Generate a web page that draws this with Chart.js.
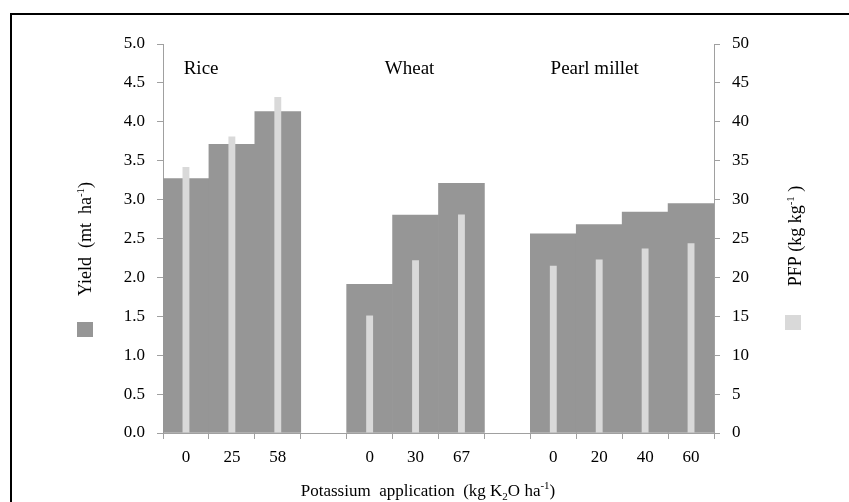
<!DOCTYPE html>
<html>
<head>
<meta charset="utf-8">
<script src="https://cdn.jsdelivr.net/npm/chart.js@4.4.1/dist/chart.umd.min.js"></script>
<style>
  html, body { margin: 0; padding: 0; background: #fff; }
  #wrap { width: 849px; height: 502px; }
</style>
</head>
<body>
<div id="wrap"><canvas id="yieldChart" width="849" height="502"></canvas></div>
<script>
// K rates per crop, blank slots separate the crops
const rates = ['0', '25', '58', '', '0', '30', '67', '', '0', '20', '40', '60'];
const crops = ['Rice', 'Wheat', 'Pearl millet'];
// grain yield, mt/ha
const yieldVals = [3.27, 3.71, 4.13, null, 1.91, 2.80, 3.21, null, 2.56, 2.68, 2.84, 2.95];
// partial factor productivity, kg/kg
const pfpVals = [34.2, 38.1, 43.2, null, 15.1, 22.2, 28.1, null, 21.5, 22.3, 23.7, 24.4];

const FONT = '"Liberation Serif", "Times New Roman", serif';
const DARK = '#969696';
const LIGHT = '#d9d9d9';
const AXIS = '#a0a0a0';

// draws text with super/subscript pieces, centred on (x, y)
function drawRich(ctx, parts, x, y, size, vertical) {
  const small = Math.round(size * 0.62);
  let total = 0;
  parts.forEach(p => {
    ctx.font = (p[1] ? small : size) + 'px ' + FONT;
    total += ctx.measureText(p[0]).width;
  });
  ctx.save();
  ctx.translate(x, y);
  if (vertical) ctx.rotate(-Math.PI / 2);
  ctx.fillStyle = '#000';
  ctx.textBaseline = 'alphabetic';
  ctx.textAlign = 'left';
  let cx = -total / 2;
  parts.forEach(p => {
    ctx.font = (p[1] ? small : size) + 'px ' + FONT;
    const dy = p[1] === 1 ? -size * 0.4 : (p[1] === -1 ? size * 0.22 : 0);
    ctx.fillText(p[0], cx, dy);
    cx += ctx.measureText(p[0]).width;
  });
  ctx.restore();
}

const decorations = {
  id: 'decorations',
  afterDraw(chart) {
    const ctx = chart.ctx;
    const x = chart.scales.x;

    // outer frame
    ctx.save();
    ctx.strokeStyle = '#000';
    ctx.lineWidth = 2;
    ctx.beginPath();
    ctx.moveTo(11, 502);
    ctx.lineTo(11, 14);
    ctx.lineTo(849, 14);
    ctx.stroke();

    // crop names over each group
    ctx.fillStyle = '#000';
    ctx.font = '19px ' + FONT;
    ctx.textAlign = 'center';
    ctx.textBaseline = 'alphabetic';
    const slot = x.getPixelForValue(1) - x.getPixelForValue(0);
    const anchors = [0.33, 4.87, 8.9];
    crops.forEach((name, i) => {
      ctx.fillText(name, x.getPixelForValue(0) + anchors[i] * slot, 74);
    });

    // legend swatches beside the axis titles
    ctx.fillStyle = DARK;
    ctx.fillRect(77, 322, 16, 15);
    ctx.fillStyle = LIGHT;
    ctx.fillRect(785, 315, 16, 15);
    ctx.restore();

    drawRich(ctx, [['Yield  (mt  ha', 0], ['-1', 1], [')', 0]], 91, 239, 18, true);
    drawRich(ctx, [['PFP (kg kg', 0], ['-1', 1], [' )', 0]], 801, 236, 18, true);
    drawRich(ctx, [['Potassium  application  (kg K', 0], ['2', -1], ['O ha', 0], ['-1', 1], [')', 0]], 428, 496, 17, false);
  }
};

new Chart(document.getElementById('yieldChart'), {
  type: 'bar',
  data: {
    labels: rates,
    datasets: [
      {
        label: 'PFP',
        data: pfpVals,
        yAxisID: 'y1',
        backgroundColor: LIGHT,
        grouped: false,
        barPercentage: 0.15,
        categoryPercentage: 1,
        order: 0
      },
      {
        label: 'Yield',
        data: yieldVals,
        yAxisID: 'y',
        backgroundColor: DARK,
        grouped: false,
        barPercentage: 1,
        categoryPercentage: 1,
        order: 1
      }
    ]
  },
  options: {
    responsive: false,
    animation: false,
    layout: { padding: { top: 44, left: 0, right: 0, bottom: 0 } },
    plugins: {
      legend: { display: false },
      tooltip: { enabled: false }
    },
    scales: {
      x: {
        grid: { drawOnChartArea: false, color: AXIS, tickLength: 6, offset: true },
        border: { color: AXIS },
        ticks: { color: '#000', font: { family: FONT, size: 17 }, padding: 8, autoSkip: false, maxRotation: 0 },
        afterFit(s) { s.height = 69; }
      },
      y: {
        position: 'left',
        min: 0,
        max: 5,
        grid: { drawOnChartArea: false, color: AXIS, tickLength: 6 },
        border: { color: AXIS },
        ticks: {
          stepSize: 0.5,
          color: '#000',
          padding: 12,
          font: { family: FONT, size: 17 },
          callback: v => v.toFixed(1)
        },
        afterFit(s) { s.width = 163; }
      },
      y1: {
        position: 'right',
        min: 0,
        max: 50,
        grid: { drawOnChartArea: false, color: AXIS, tickLength: 6 },
        border: { color: AXIS },
        ticks: { stepSize: 5, color: '#000', padding: 12, font: { family: FONT, size: 17 } },
        afterFit(s) { s.width = 135; }
      }
    }
  },
  plugins: [decorations]
});
</script>
</body>
</html>
